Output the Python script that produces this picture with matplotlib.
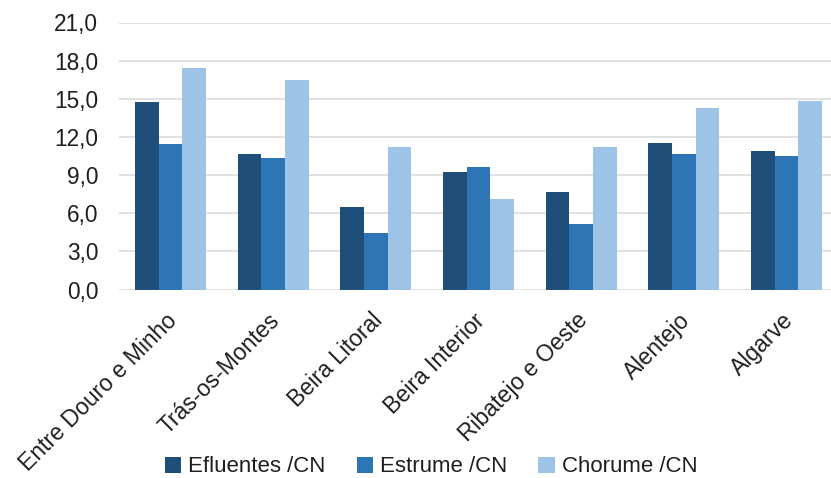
import matplotlib.pyplot as plt
import matplotlib.transforms as mtransforms
import numpy as np
from matplotlib.ticker import FuncFormatter, MultipleLocator

plt.rcParams["font.family"] = ["Liberation Sans", "DejaVu Sans"]

# Average values per region (per CN)
regions = [
    "Entre Douro e Minho",
    "Trás-os-Montes",
    "Beira Litoral",
    "Beira Interior",
    "Ribatejo e Oeste",
    "Alentejo",
    "Algarve",
]
efluentes = [14.76, 10.63, 6.51, 9.26, 7.69, 11.49, 10.91]
estrume = [11.44, 10.31, 4.42, 9.63, 5.17, 10.65, 10.50]
chorume = [17.39, 16.47, 11.23, 7.11, 11.23, 14.24, 14.79]

series_names = ["Efluentes /CN", "Estrume /CN", "Chorume /CN"]
colors = ["#1F4E79", "#2E75B6", "#9DC3E6"]

W, H = 831, 478
fig = plt.figure(figsize=(W / 100, H / 100), dpi=100)
ax = fig.add_axes([119 / W, 1 - 289.5 / H, (838 - 119) / W, (289.5 - 22.5) / H])

x = np.arange(len(regions))
bw = 0.23
for i, (vals, name, c) in enumerate(zip([efluentes, estrume, chorume], series_names, colors)):
    ax.bar(x + (i - 1) * bw, vals, width=bw, color=c, label=name, zorder=3)

ax.set_xlim(-0.5, len(regions) - 0.5)
ax.set_ylim(0, 21)
ax.yaxis.set_major_locator(MultipleLocator(3))
ax.yaxis.set_major_formatter(FuncFormatter(lambda v, _: f"{v:.1f}".replace(".", ",")))
ax.grid(axis="y", color="#D9D9D9", linewidth=1.1, zorder=0)
for s in ax.spines.values():
    s.set_visible(False)

ax.tick_params(axis="y", length=0, pad=15, labelsize=16.3, labelcolor="#1F1F1F")
ax.tick_params(axis="x", length=0, pad=14)
ax.set_xticks(x)
ax.set_xticklabels(regions, rotation=45, ha="right", va="top",
                   rotation_mode="anchor", fontsize=16.6, color="#1F1F1F")
# nudge the rotated labels a little to the left
shift = mtransforms.ScaledTranslation(-5 / 100, 0, fig.dpi_scale_trans)
for lbl in ax.get_xticklabels():
    lbl.set_transform(lbl.get_transform() + shift)

fig.legend(loc="center", bbox_to_anchor=(431 / W, 1 - 467 / H), ncol=3,
           frameon=False, fontsize=16, handlelength=0.75, handleheight=0.75,
           handletextpad=0.3, columnspacing=1.4, labelcolor="#1F1F1F")

fig.savefig("out.png", dpi=100)
